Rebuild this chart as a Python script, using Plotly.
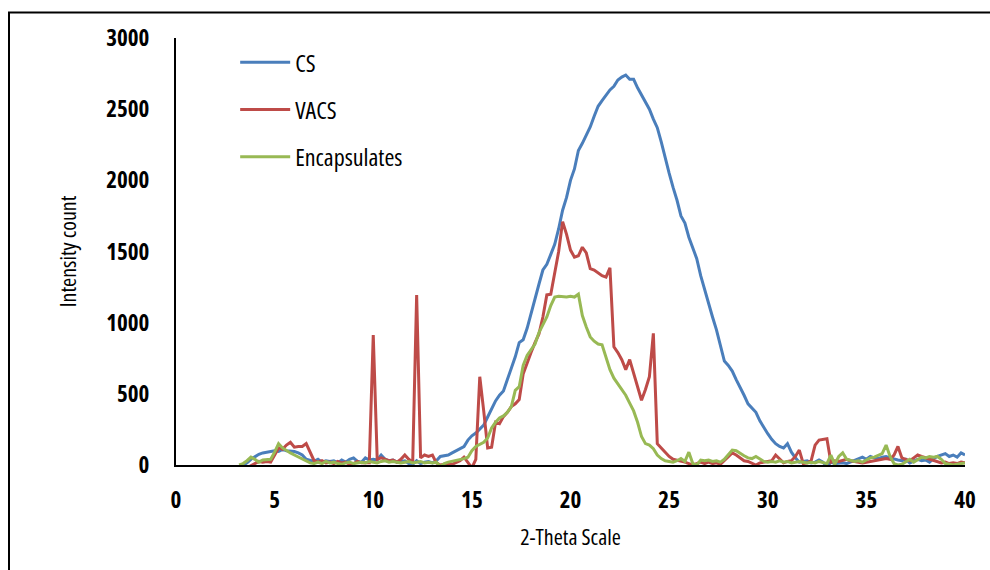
import plotly.graph_objects as go

# scan grid: 3.2 .. 40.0 step 0.2 (185 points)
x_start = 3.2
x_step = 0.2

cs = [
    -20, -5, 15, 40, 60, 75, 85, 90, 95, 100,
    95, 110, 100, 100, 95, 85, 70, 40, 30, 25,
    40, 20, 30, 25, 30, 15, 35, 20, 40, 50,
    25, 20, 50, 35, 40, 35, 70, 40, 30, 35,
    20, 25, 30, 10, 5, 30, 10, 20, 25, 15,
    30, 60, 65, 70, 85, 100, 115, 130, 175, 205,
    225, 250, 280, 337, 400, 450, 490, 520, 600, 680,
    760, 860, 880, 960, 1070, 1170, 1270, 1370, 1410, 1480,
    1550, 1660, 1790, 1880, 2000, 2080, 2210, 2260, 2320, 2375,
    2450, 2520, 2560, 2600, 2635, 2660, 2705, 2725, 2740, 2710,
    2710, 2650, 2600, 2560, 2500, 2430, 2370, 2270, 2150, 2050,
    1950, 1860, 1750, 1700, 1600, 1530, 1450, 1330, 1230, 1140,
    1040, 950, 830, 730, 700, 660, 600, 550, 490, 430,
    400, 370, 310, 260, 220, 180, 150, 130, 120, 150,
    90, 50, 20, 25, 30, 15, 20, 35, 20, -15,
    20, 10, 15, 15, 10, 20, 30, 40, 55, 40,
    60, 50, 45, 55, 60, 50, 40, 35, 30, 40,
    15, 30, 40, 30, 35, 20, 45, 60, 70, 80,
    60, 70, 55, 85, 70,
]

vacs = [
    -30, -30, -20, -5, 10, 25, 20, 25, 20, 70,
    120, 110, 140, 160, 125, 130, 130, 150, 90, 30,
    20, 30, 15, 20, 10, 25, 15, 20, 5, 10,
    25, 15, 15, 15, 913, 40, 50, 40, 30, 35,
    20, 40, 70, 40, 20, 1194, 50, 70, 60, 70,
    15, 0, 5, 10, 5, 15, 30, 55, 20, -20,
    40, 620, 380, 120, 125, 300, 290, 340, 370, 410,
    430, 460, 640, 720, 790, 860, 920, 1040, 1195, 1200,
    1350, 1500, 1710, 1620, 1510, 1460, 1470, 1530, 1490, 1380,
    1370, 1350, 1330, 1320, 1385, 830, 790, 740, 670, 740,
    650, 560, 455, 530, 620, 925, 150, 120, 90, 60,
    40, 35, 30, 20, 10, 0, 10, 20, 10, 20,
    10, 15, 5, 30, 60, 85, 70, 50, 30, 25,
    10, 0, 15, 20, 25, 30, 70, 40, 15, 25,
    30, 60, 105, 10, 15, 30, 140, 175, 180, 185,
    20, 30, 25, 35, 40, 30, 25, 20, 15, 20,
    25, 30, 35, 40, 45, 40, 70, 130, 50, 40,
    30, 50, 70, 60, 50, 45, 30, 20, 15, 20,
    10, 15, 10, 20, 15,
]

encapsulates = [
    0, 10, 30, 55, 40, 20, 35, 35, 40, 90,
    150, 120, 100, 85, 70, 55, 45, 30, 15, 10,
    20, 10, 25, 15, 20, 10, 5, 15, 20, 10,
    15, 20, 15, 25, 20, 15, 25, 30, 20, 25,
    20, 15, 20, 25, 15, 20, 25, 15, 20, 15,
    20, -10, 10, 20, 25, 30, 35, 45, 55, 100,
    130, 145, 160, 190, 260, 300, 330, 345, 370, 410,
    525, 550, 700, 770, 810, 850, 930, 990, 1040, 1120,
    1180, 1185, 1180, 1180, 1185, 1180, 1200, 1050, 970, 900,
    870, 850, 845, 760, 670, 610, 570, 535, 490, 435,
    380, 300, 200, 150, 140, 115, 70, 45, 30, 25,
    20, 30, 45, 25, 90, 10, 0, 35, 30, 35,
    25, 30, 20, 40, 70, 105, 100, 80, 65, 50,
    45, 60, 40, 25, 20, 25, 20, 30, 20, 25,
    15, 20, 25, 20, 15, 20, 15, 25, 20, 10,
    70, 5, 60, 85, 40, 30, 25, 30, 20, 35,
    50, 55, 70, 80, 140, 60, 10, 0, 5, 20,
    40, 20, 35, 55, 50, 60, 55, 60, 40, 10,
    5, 0, 5, 10, 15,
]

series_names = ["CS", "VACS", "Encapsulates"]
series_colors = ["#4A7EBB", "#BE4B48", "#98B954"]
x_ticks = [0, 5, 10, 15, 20, 25, 30, 35, 40]
y_ticks = [0, 500, 1000, 1500, 2000, 2500, 3000]

FONT = "Open Sans, Noto Sans, Liberation Sans, sans-serif"

fig = go.Figure()
for name, ys, col in zip(series_names, [cs, vacs, encapsulates], series_colors):
    xs = [round(x_start + x_step * i, 1) for i in range(len(ys))]
    fig.add_trace(go.Scatter(
        x=xs, y=ys, mode="lines", name=name, legendgroup=name,
        line=dict(color=col, width=3),
    ))

fig.update_layout(
    width=990, height=570,
    paper_bgcolor="white", plot_bgcolor="white",
    margin=dict(l=176, r=25, t=38, b=105),
    font=dict(family=FONT, color="black"),
    showlegend=True,
    legend=dict(
        x=0.075, y=0.995, xanchor="left", yanchor="top",
        bgcolor="rgba(0,0,0,0)", tracegroupgap=13,
        font=dict(size=24, family=FONT, color="black", weight=500),
        itemwidth=50,
    ),
    xaxis=dict(
        range=[0, 40], tickvals=x_ticks, showgrid=False, zeroline=False,
        showline=True, linecolor="black", linewidth=2, ticks="",
        tickfont=dict(size=23, family=FONT, weight="bold"),
        ticklabelstandoff=13,
        title=dict(text="2-Theta Scale", font=dict(size=22, family=FONT), standoff=16),
    ),
    yaxis=dict(
        range=[0, 3000], tickvals=y_ticks, showgrid=False, zeroline=False,
        showline=True, linecolor="black", linewidth=2, ticks="",
        tickfont=dict(size=23, family=FONT, weight="bold"),
        ticklabelstandoff=20,
        title=dict(text="Intensity count", font=dict(size=22, family=FONT), standoff=14),
    ),
)

# outer chart border (partly cropped in the original)
fig.add_shape(type="rect", xref="paper", yref="paper",
              x0=(9 - 176) / 789, x1=(1010 - 176) / 789,
              y0=(465 - 620) / 427, y1=(465 - 12.5) / 427,
              line=dict(color="black", width=2), fillcolor="rgba(0,0,0,0)", layer="below")

condense = (
    "var s=document.createElement('style');"
    "s.textContent='.main-svg text{font-stretch:75% !important;}';"
    "document.head.appendChild(s);"
)
fig.write_html("out.html", post_script=condense)
